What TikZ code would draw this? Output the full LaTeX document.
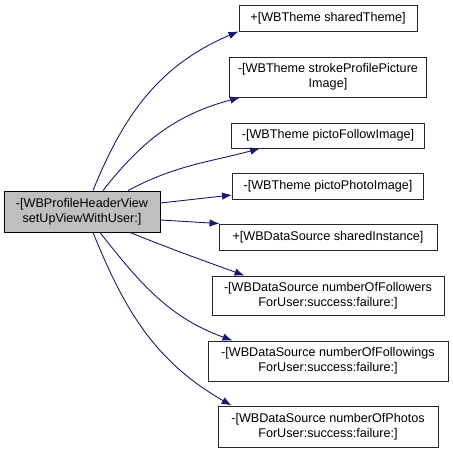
\documentclass[tikz,border=0pt]{standalone}
\usepackage{fontspec}
\setmainfont{Liberation Sans}
\usepackage{xcolor}
\usetikzlibrary{arrows.meta}

\definecolor{callblue}{RGB}{25,25,112}
\definecolor{srcgray}{RGB}{191,191,191}

\begin{document}
\begin{tikzpicture}[x=1pt,y=1pt,
    fn/.style={draw=black!85,fill=white,line width=0.9pt,inner sep=0pt,
      align=center,font=\fontsize{12.6}{15}\selectfont},
    call/.style={callblue,line width=0.9pt,-{Latex[length=10pt,width=7.5pt]}}]
    \useasboundingbox (0,0) rectangle (453,-452);

    \node[fn,fill=srcgray,draw=black,minimum width=156pt,minimum height=41pt]
      (src) at (82,-211.5) {-[WBProfileHeaderView\\setUpViewWithUser:]};

    \foreach \name/\y/\w/\h/\txt in {
        t1/18/178/26/{+[WBTheme sharedTheme]},
        t2/77/197/40/{-[WBTheme strokeProfilePicture\\Image]},
        t3/135.5/193/25/{-[WBTheme pictoFollowImage]},
        t4/186/191/26/{-[WBTheme pictoPhotoImage]},
        t5/237/218/26/{+[WBDataSource sharedInstance]},
        t6/295.5/232/39/{-[WBDataSource numberOfFollowers\\ForUser:success:failure:]},
        t7/361/240/40/{-[WBDataSource numberOfFollowings\\ForUser:success:failure:]},
        t8/426.5/220/41/{-[WBDataSource numberOfPhotos\\ForUser:success:failure:]}} {
      \node[fn,minimum width=\w pt,minimum height=\h pt] (\name) at (328,-\y) {\txt};
    }

    \draw[call] ([xshift=11pt]src.north) to[out=68,in=203] (t1.south west);
    \draw[call] ([xshift=21pt]src.north) to[out=52,in=195] ([xshift=11pt]t2.south west);
    \draw[call] ([xshift=46pt]src.north) to[out=28,in=195] ([xshift=29pt]t3.south west);
    \draw[call] ([yshift=8.5pt]src.east) -- ([yshift=-9pt]t4.west);
    \draw[call] ([yshift=-8.5pt]src.east) -- ([xshift=1pt]t5.north west);
    \draw[call] ([xshift=48pt]src.south) to[out=-22,in=160] ([xshift=33pt]t6.north west);
    \draw[call] ([xshift=18pt]src.south) to[out=-52,in=160] ([xshift=25pt]t7.north west);
    \draw[call] ([xshift=11pt]src.south) to[out=-68,in=150] ([xshift=14pt]t8.north west);
  \end{tikzpicture}
\end{document}
